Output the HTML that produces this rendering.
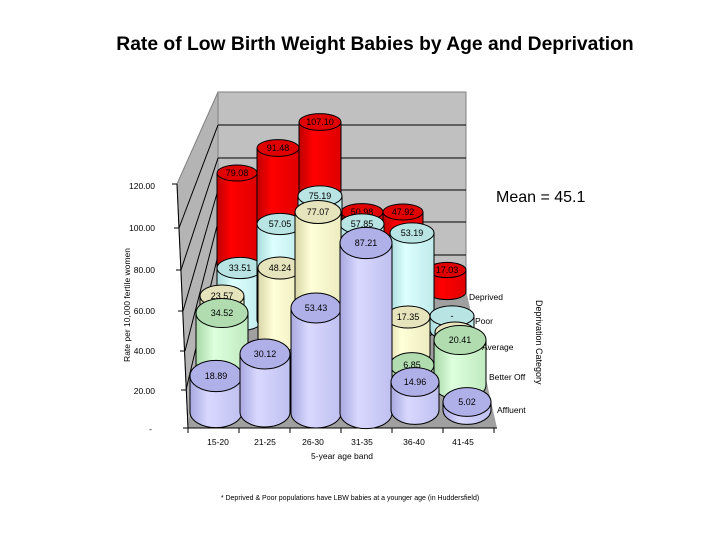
<!DOCTYPE html>
<html><head><meta charset="utf-8"><style>
body{margin:0;background:#fff;width:720px;height:540px;overflow:hidden}
svg text{font-family:"Liberation Sans",Arial,sans-serif}
</style></head><body>
<svg id="s" width="720" height="540" xmlns="http://www.w3.org/2000/svg">
<defs>
<linearGradient id="gr" x1="0" x2="1"><stop offset="0" stop-color="#c00000"/><stop offset=".35" stop-color="#ff0000"/><stop offset="1" stop-color="#e00000"/></linearGradient>
<linearGradient id="gc" x1="0" x2="1"><stop offset="0" stop-color="#a8dada"/><stop offset=".35" stop-color="#ddffff"/><stop offset="1" stop-color="#bfeaea"/></linearGradient>
<linearGradient id="gy" x1="0" x2="1"><stop offset="0" stop-color="#d8d6a8"/><stop offset=".35" stop-color="#ffffd8"/><stop offset="1" stop-color="#ecebc0"/></linearGradient>
<linearGradient id="gg" x1="0" x2="1"><stop offset="0" stop-color="#a8d8a8"/><stop offset=".35" stop-color="#ddffdd"/><stop offset="1" stop-color="#c0eac0"/></linearGradient>
<linearGradient id="gb" x1="0" x2="1"><stop offset="0" stop-color="#a8a8e0"/><stop offset=".35" stop-color="#d8d8ff"/><stop offset="1" stop-color="#c0c0f0"/></linearGradient>
</defs>
<text x="375" y="50" text-anchor="middle" font-size="19.3" font-weight="bold">Rate of Low Birth Weight Babies by Age and Deprivation</text>
<polygon points="218,92 466,92 466,290 218,290" fill="#c0c0c0" stroke="#808080"/>
<polygon points="218,92 177,184 188,428 218,290" fill="#b4b4b4" stroke="#808080"/>
<polygon points="188,428 497,428 466,290 218,290" fill="#a0a0a0"/>
<g stroke="#000" stroke-width="1">
<line x1="218" y1="125" x2="466" y2="125"/><line x1="218" y1="158" x2="466" y2="158"/>
<line x1="218" y1="190" x2="466" y2="190"/><line x1="218" y1="222" x2="466" y2="222"/>
<line x1="218" y1="255" x2="466" y2="255"/>
<line x1="179" y1="228" x2="218" y2="125"/><line x1="181" y1="270" x2="218" y2="158"/>
<line x1="183" y1="311" x2="218" y2="190"/><line x1="185" y1="351" x2="218" y2="222"/>
<line x1="186" y1="390" x2="218" y2="255"/>
<line x1="177" y1="184" x2="188" y2="428"/><line x1="188" y1="428" x2="497" y2="428"/>
</g>
<g id="cyl"></g>
<g font-size="8.5" text-anchor="end">
<text x="155" y="189">120.00</text><text x="155" y="231">100.00</text><text x="155" y="273">80.00</text>
<text x="155" y="314">60.00</text><text x="155" y="354">40.00</text><text x="155" y="394">20.00</text><text x="152" y="432">-</text>
</g>
<g stroke="#000"><line x1="172" y1="184" x2="177" y2="184"/><line x1="174" y1="228" x2="179" y2="228"/><line x1="176" y1="270" x2="181" y2="270"/><line x1="178" y1="311" x2="183" y2="311"/><line x1="180" y1="351" x2="185" y2="351"/><line x1="181" y1="390" x2="186" y2="390"/><line x1="183" y1="428" x2="188" y2="428"/>
<line x1="188" y1="428" x2="188" y2="433"/><line x1="239" y1="428" x2="239" y2="433"/><line x1="290" y1="428" x2="290" y2="433"/><line x1="341" y1="428" x2="341" y2="433"/><line x1="392" y1="428" x2="392" y2="433"/><line x1="443" y1="428" x2="443" y2="433"/><line x1="494" y1="428" x2="494" y2="433"/></g>
<text transform="translate(130,305) rotate(-90)" text-anchor="middle" font-size="8.5">Rate per 10,000 fertile women</text>
<g font-size="8.5" text-anchor="middle">
<text x="218" y="445">15-20</text><text x="265" y="445">21-25</text><text x="313" y="445">26-30</text>
<text x="362" y="445">31-35</text><text x="414" y="445">36-40</text><text x="463" y="445">41-45</text>
<text x="342" y="459">5-year age band</text>
</g>
<g font-size="8.5">
<text x="469" y="300">Deprived</text><text x="475" y="324">Poor</text><text x="482" y="350">Average</text>
<text x="489" y="380">Better Off</text><text x="497" y="413">Affluent</text>
</g>
<text transform="translate(536,300) rotate(90)" font-size="9">Deprivation Category</text>
<text x="496" y="202" font-size="16">Mean = 45.1</text>
<text x="350" y="500" text-anchor="middle" font-size="7">* Deprived &amp; Poor populations have LBW babies at a younger age (in Huddersfield)</text>
</svg>
<script>
var gg=document.getElementById('cyl'),ns='http://www.w3.org/2000/svg';
var topc={r:'#e00000',c:'#b8e4e4',y:'#e6e4bc',g:'#b0dcb0',b:'#b0b0e8'};
var rat={r:0.2,c:0.23,y:0.25,g:0.28,b:0.3};
function el(n,a){var e=document.createElementNS(ns,n);for(var k in a)e.setAttribute(k,a[k]);gg.appendChild(e);return e;}
function cyl(cx,t,b,w,c,l){var rx=w/2,ry=w*rat[c];
el('path',{d:'M'+(cx-rx)+','+t+' L'+(cx-rx)+','+b+' A'+rx+','+ry+' 0 0 0 '+(cx+rx)+','+b+' L'+(cx+rx)+','+t+' Z',fill:'url(#g'+c+')',stroke:'#000','stroke-width':1});
el('ellipse',{cx:cx,cy:t,rx:rx,ry:ry,fill:topc[c],stroke:'#000','stroke-width':1});
if(l){var x=el('text',{x:cx,y:t+3,'text-anchor':'middle','font-size':9,fill:'#000'});x.textContent=l;}}
var d=[
[237,173,300,40,'r','79.08'],[278,148,300,42,'r','91.48'],[320,122,300,42,'r','107.10'],[362,212,300,42,'r','50.98'],[403,212,300,40,'r','47.92'],[447,270,292,38,'r','17.03'],
[240,268,320,46,'c','33.51'],[280,224,320,46,'c','57.05'],[320,196,320,44,'c','75.19'],[362,224,320,44,'c','57.85'],[412,233,330,44,'c','53.19'],[452,316,330,44,'c','-'],
[222,296,340,44,'y','23.57'],[280,268,340,44,'y','48.24'],[318,212,340,46,'y','77.07'],[408,317,355,44,'y','17.35'],[455,332,355,40,'y',''],
[222,313,370,52,'g','34.52'],[412,365,385,44,'g','6.85'],[460,340,385,52,'g','20.41'],
[216,376,412,52,'b','18.89'],[265,354,412,50,'b','30.12'],[316,308,413,50,'b','53.43'],[366,243,413,52,'b','87.21'],[415,382,410,48,'b','14.96'],[467,402,410,48,'b','5.02']];
d.forEach(function(a){cyl.apply(null,a);});
</script>
</body></html>
